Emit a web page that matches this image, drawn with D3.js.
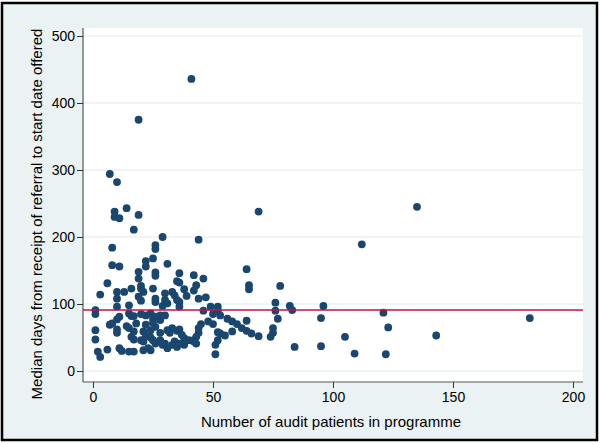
<!DOCTYPE html>
<html>
<head>
<meta charset="utf-8">
<script src="https://cdn.jsdelivr.net/npm/d3@7"></script>
<style>
  body { margin: 0; background: #fff; }
  svg text { font-family: "Liberation Sans", Arial, sans-serif; fill: #000; }
</style>
</head>
<body>
<div id="chart"></div>
<script>
// audit patients per programme vs median days to start date offered
const patients = [41,19,7,10,135,69,112,44,14,9,9,11,19,17,29,8,26,26,25,22,22,31,8,11,19,19,26,26,
  36,35,36,42,46,6,43,42,38,16,20,20,21,25,3,10,13,33,30,34,39,44,47,10,10,15,19,20,26,26,30,31,35,36,
  29,36,1,1,11,10,8,7,15,16,17,20,22,24,26,28,25,30,14,15,18,17,21,22,24,26,10,1,1,16,17,20,21,25,26,28,
  11,12,15,17,21,23,24,6,2,3,31,32,35,36,37,38,40,34,33,30,29,42,43,38,45,44,44,43,42,46,49,52,52,50,53,
  56,58,60,62,64,66,69,48,50,58,55,52,53,52,51,51,64,65,65,78,76,76,77,64,75,75,74,82,83,84,96,95,95,105,
  109,121,123,122,143,182,33,28,28,25,22,24,31,35,36,10];
const medianDays = [436,375,294,282,245,238,189,196,243,238,230,228,233,211,200,184,188,182,168,164,156,160,158,156,148,138,147,142,
  146,134,132,143,138,131,128,120,122,123,127,123,118,123,114,118,118,118,116,113,112,108,110,108,96,98,111,105,108,103,106,101,106,103,
  97,96,91,85,81,77,71,69,86,82,82,85,83,86,81,83,78,83,67,64,71,59,59,69,61,66,57,61,47,51,47,46,44,46,41,46,
  34,30,29,29,31,34,31,32,29,21,61,57,60,62,54,49,46,44,39,41,39,46,41,39,70,64,57,51,44,90,96,96,90,85,83,
  78,74,70,64,60,56,52,74,70,59,53,58,56,46,39,25,152,128,122,127,102,90,78,75,64,57,51,97,91,36,97,79,37,51,
  26,87,65,25,53,79,64,57,76,72,52,50,34,36,41,62];
const referenceLine = 91;
const xTicks = [0, 50, 100, 150, 200];
const yTicks = [0, 100, 200, 300, 400, 500];

const W = 600, H = 444;
const plot = { left: 83, right: 583, top: 28, bottom: 382 };

const svg = d3.select('#chart').append('svg')
  .attr('width', W).attr('height', H);

// outer graph region
svg.append('rect')
  .attr('x', 2).attr('y', 3).attr('width', 595).attr('height', 437)
  .attr('fill', '#eaf2f3').attr('stroke', '#000').attr('stroke-width', 2.5);

svg.append('rect')
  .attr('x', plot.left).attr('y', plot.top)
  .attr('width', plot.right - plot.left).attr('height', plot.bottom - plot.top)
  .attr('fill', '#fff');

const x = d3.scaleLinear().domain([0, 200]).range([93, 573]);
const y = d3.scaleLinear().domain([0, 500]).range([371, 36]);

// gridlines
svg.append('g')
  .selectAll('line')
  .data(yTicks)
  .enter().append('line')
  .attr('x1', plot.left).attr('x2', plot.right)
  .attr('y1', d => y(d)).attr('y2', d => y(d))
  .attr('stroke', '#eaf2f3').attr('stroke-width', 1.5);

// axes
const yAxis = svg.append('g')
  .attr('transform', `translate(${plot.left},0)`)
  .call(d3.axisLeft(y).tickValues(yTicks).tickSize(6).tickPadding(2).tickFormat(d3.format('d')));
yAxis.select('.domain').attr('d', `M0,${plot.top}V${plot.bottom}`);

const xAxis = svg.append('g')
  .attr('transform', `translate(0,${plot.bottom})`)
  .call(d3.axisBottom(x).tickValues(xTicks).tickSize(6).tickPadding(4).tickFormat(d3.format('d')));
xAxis.select('.domain').attr('d', `M${plot.left},0H${plot.right}`);

svg.selectAll('.domain').attr('stroke', '#555').attr('stroke-width', 1.2);
svg.selectAll('.tick line').attr('stroke', '#333').attr('stroke-width', 1);
svg.selectAll('.tick text').style('font-size', '14px').attr('fill', '#000');

// points
const data = patients.map((p, i) => ({ p, m: medianDays[i] }));
svg.append('g')
  .selectAll('circle')
  .data(data)
  .enter().append('circle')
  .attr('cx', d => x(d.p))
  .attr('cy', d => y(d.m))
  .attr('r', 3.9)
  .attr('fill', '#1a476f');

// reference line
svg.append('line')
  .attr('x1', plot.left).attr('x2', plot.right)
  .attr('y1', y(referenceLine)).attr('y2', y(referenceLine))
  .attr('stroke', '#c8103e').attr('stroke-width', 1.5);

// titles
svg.append('text')
  .attr('x', 331).attr('y', 427)
  .attr('text-anchor', 'middle').style('font-size', '15px')
  .text('Number of audit patients in programme');

svg.append('text')
  .attr('transform', `translate(42,214) rotate(-90)`)
  .attr('text-anchor', 'middle').style('font-size', '15px')
  .text('Median days from receipt of referral to start date offered');
</script>
</body>
</html>
